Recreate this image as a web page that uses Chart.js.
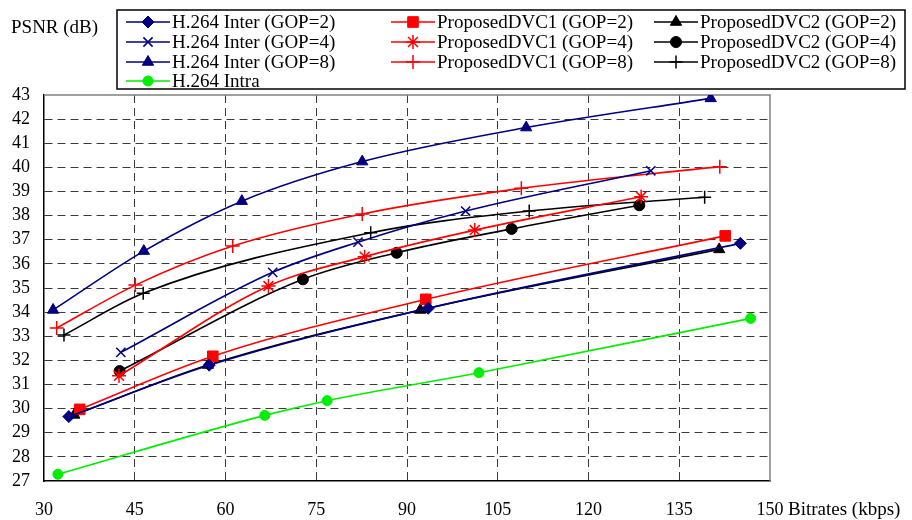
<!DOCTYPE html>
<html>
<head>
<meta charset="utf-8">
<script src="https://cdn.jsdelivr.net/npm/chart.js@4"></script>
<style>
  body { margin: 0; background: #fff; }
  #wrap { width: 912px; height: 520px; position: relative; }
</style>
</head>
<body>
<div id="wrap"><canvas id="psnrChart" width="912" height="520"></canvas></div>
<script>
// Datos (bitrate en kbps, PSNR en dB)
const xTicks = [30, 45, 60, 75, 90, 105, 120, 135, 150];
const yTicks = [27, 28, 29, 30, 31, 32, 33, 34, 35, 36, 37, 38, 39, 40, 41, 42, 43];

const inter2Rate = [34.1, 57.3, 93.5, 145.1];
const inter2Psnr = [29.67, 31.8, 34.16, 36.85];
const inter4Rate = [42.7, 67.8, 81.9, 99.7, 130.3];
const inter4Psnr = [32.33, 35.65, 36.9, 38.19, 39.86];
const inter8Rate = [31.5, 46.5, 62.7, 82.6, 109.7, 140.2];
const inter8Psnr = [34.09, 36.53, 38.6, 40.24, 41.65, 42.86];
const intraRate = [32.3, 66.5, 76.8, 101.9, 146.8];
const intraPsnr = [27.28, 29.72, 30.33, 31.49, 33.74];

const dvc1g2Rate = [35.9, 57.9, 93.1, 142.6];
const dvc1g2Psnr = [29.97, 32.17, 34.53, 37.16];
const dvc1g4Rate = [42.4, 67.1, 83.0, 101.2, 128.7];
const dvc1g4Psnr = [31.36, 35.08, 36.3, 37.4, 38.78];
const dvc1g8Rate = [32.1, 45.1, 61.2, 82.6, 108.9, 141.7];
const dvc1g8Psnr = [33.34, 35.12, 36.74, 38.07, 39.13, 40.03];

const dvc2g2Rate = [35.0, 57.1, 92.2, 141.6];
const dvc2g2Psnr = [29.74, 31.81, 34.09, 36.6];
const dvc2g4Rate = [42.5, 72.8, 88.3, 107.3, 128.4];
const dvc2g4Psnr = [31.56, 35.36, 36.46, 37.45, 38.43];
const dvc2g8Rate = [33.3, 46.4, 84.0, 110.2, 139.2];
const dvc2g8Psnr = [33.05, 34.78, 37.29, 38.19, 38.76];

const NAVY = '#000080';
const RED = '#ff0000';
const BLACK = '#000000';
const GREEN = '#00ee00';
const SERIF = '"Liberation Serif", "Times New Roman", serif';

function toPoints(xs, ys) {
    return xs.map((x, i) => ({ x: x, y: ys[i] }));
}

function serie(label, xs, ys, color, style, radius, bw) {
    return {
        label: label,
        data: toPoints(xs, ys),
        borderColor: color,
        backgroundColor: color,
        borderWidth: 1.6,
        pointStyle: style,
        pointRadius: radius,
        pointHoverRadius: radius,
        pointBorderWidth: bw,
        pointBorderColor: color,
        pointBackgroundColor: color,
        tension: 0.25,
        cubicInterpolationMode: 'monotone'
    };
}

const datasets = [
    serie('H.264 Inter (GOP=2)', inter2Rate, inter2Psnr, NAVY, 'rectRot', 6, 1),
    serie('H.264 Inter (GOP=4)', inter4Rate, inter4Psnr, NAVY, 'crossRot', 6.5, 1.5),
    serie('H.264 Inter (GOP=8)', inter8Rate, inter8Psnr, NAVY, 'triangle', 6.5, 1),
    serie('H.264 Intra', intraRate, intraPsnr, GREEN, 'circle', 5, 1),
    serie('ProposedDVC1 (GOP=2)', dvc1g2Rate, dvc1g2Psnr, RED, 'rect', 7.5, 1),
    serie('ProposedDVC1 (GOP=4)', dvc1g4Rate, dvc1g4Psnr, RED, 'star', 7, 1.5),
    serie('ProposedDVC1 (GOP=8)', dvc1g8Rate, dvc1g8Psnr, RED, 'cross', 7, 1.5),
    serie('ProposedDVC2 (GOP=2)', dvc2g2Rate, dvc2g2Psnr, BLACK, 'triangle', 6.5, 1),
    serie('ProposedDVC2 (GOP=4)', dvc2g4Rate, dvc2g4Psnr, BLACK, 'circle', 5.5, 1),
    serie('ProposedDVC2 (GOP=8)', dvc2g8Rate, dvc2g8Psnr, BLACK, 'cross', 6.5, 1.5)
];

// Leyenda en tres columnas y textos de ejes
const decoPlugin = {
    id: 'deco',
    beforeDatasetsDraw(chart) {
        const { ctx, chartArea: a } = chart;
        ctx.save();
        ctx.strokeStyle = '#808080';
        ctx.lineWidth = 1.5;
        ctx.beginPath();
        ctx.moveTo(a.left, a.top);
        ctx.lineTo(a.right, a.top);
        ctx.lineTo(a.right, a.bottom);
        ctx.stroke();
        ctx.restore();
    },
    afterDraw(chart) {
        const ctx = chart.ctx;
        ctx.save();
        // caja de la leyenda
        ctx.strokeStyle = '#000';
        ctx.lineWidth = 1.5;
        ctx.fillStyle = '#fff';
        ctx.fillRect(117, 10, 788, 79);
        ctx.strokeRect(117, 10, 788, 79);

        const colX = [126, 391, 654];
        const rowY = [22, 42, 62, 81];
        const slots = [[0, 0], [0, 1], [0, 2], [0, 3], [1, 0], [1, 1], [1, 2], [2, 0], [2, 1], [2, 2]];
        ctx.font = '19px ' + SERIF;
        ctx.textBaseline = 'middle';
        chart.data.datasets.forEach((ds, i) => {
            const x = colX[slots[i][0]];
            const y = rowY[slots[i][1]];
            ctx.strokeStyle = ds.borderColor;
            ctx.fillStyle = ds.borderColor;
            ctx.lineWidth = 1.6;
            ctx.beginPath();
            ctx.moveTo(x, y);
            ctx.lineTo(x + 44, y);
            ctx.stroke();
            ctx.lineWidth = ds.pointBorderWidth;
            Chart.helpers.drawPoint(ctx, {
                pointStyle: ds.pointStyle,
                radius: ds.pointRadius,
                borderWidth: ds.pointBorderWidth,
                rotation: 0
            }, x + 22, y);
            ctx.fillStyle = '#000';
            ctx.textAlign = 'left';
            ctx.fillText(ds.label, x + 46, y + 1);
        });

        ctx.fillStyle = '#000';
        ctx.font = '19px ' + SERIF;
        ctx.textAlign = 'left';
        ctx.fillText('PSNR (dB)', 11, 28);
        ctx.fillText('Bitrates (kbps)', 788, 510);
        ctx.restore();
    }
};

function initializeChart() {
    const ctx = document.getElementById('psnrChart').getContext('2d');
    new Chart(ctx, {
        type: 'line',
        data: { datasets: datasets },
        options: {
            responsive: false,
            animation: false,
            layout: { padding: { top: 95, right: 142, left: 0, bottom: 0 } },
            plugins: { legend: { display: false }, tooltip: { enabled: false } },
            scales: {
                x: {
                    type: 'linear',
                    min: xTicks[0],
                    max: xTicks[xTicks.length - 1],
                    afterBuildTicks: (scale) => { scale.ticks = xTicks.map(v => ({ value: v })); },
                    afterFit: (scale) => { scale.height = 39; },
                    ticks: { color: '#000', padding: 18, maxRotation: 0, autoSkip: false, font: { family: SERIF, size: 18 } },
                    grid: {
                        drawTicks: false,
                        lineWidth: 1,
                        color: (c) => (c.tick && (c.tick.value === 150 || c.tick.value === 30)) ? 'rgba(0,0,0,0)' : '#3a3a3a'
                    },
                    border: { display: true, color: '#000', width: 1.5, dash: [8, 5] }
                },
                y: {
                    type: 'linear',
                    min: yTicks[0],
                    max: yTicks[yTicks.length - 1],
                    afterBuildTicks: (scale) => { scale.ticks = yTicks.map(v => ({ value: v })); },
                    afterFit: (scale) => { scale.width = 44; },
                    ticks: { color: '#000', padding: 14, autoSkip: false, font: { family: SERIF, size: 18 } },
                    grid: {
                        drawTicks: false,
                        lineWidth: 1,
                        color: (c) => (c.tick && (c.tick.value === 43 || c.tick.value === 27)) ? 'rgba(0,0,0,0)' : '#3a3a3a'
                    },
                    border: { display: true, color: '#000', width: 1.5, dash: [8, 5] }
                }
            }
        },
        plugins: [decoPlugin]
    });
}

document.addEventListener('DOMContentLoaded', initializeChart);
</script>
</body>
</html>
